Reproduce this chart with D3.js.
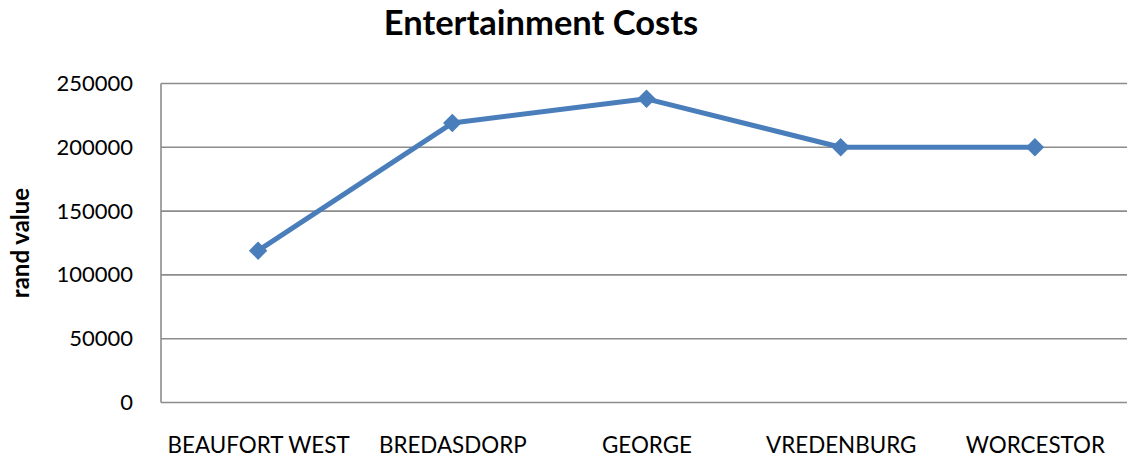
<!DOCTYPE html>
<html>
<head>
<meta charset="utf-8">
<script src="https://cdn.jsdelivr.net/npm/d3@7"></script>
<style>
  html, body { margin: 0; padding: 0; background: #fff; }
  svg { display: block; }
  text { font-family: Lato, "Open Sans", sans-serif; fill: #000; }
</style>
</head>
<body>
<svg id="chart" width="1127" height="458"></svg>
<script>
// Entertainment costs per town (rand)
const towns = ["BEAUFORT WEST", "BREDASDORP", "GEORGE", "VREDENBURG", "WORCESTOR"];
const costs = [119000, 219000, 238000, 200000, 200000];
const yTicks = [0, 50000, 100000, 150000, 200000, 250000];
const chartTitle = "Entertainment Costs";
const yTitle = "rand value";

const svg = d3.select("#chart");
const plot = { left: 161, right: 1132, top: 83.5, bottom: 402.5 };

const x = d3.scalePoint()
  .domain(towns)
  .range([plot.left, plot.right])
  .padding(0.5);

const y = d3.scaleLinear()
  .domain([0, 250000])
  .range([plot.bottom, plot.top]);

// Horizontal gridlines
svg.append("g")
  .selectAll("line")
  .data(yTicks)
  .join("line")
  .attr("x1", plot.left)
  .attr("x2", plot.right)
  .attr("y1", d => y(d))
  .attr("y2", d => y(d))
  .attr("stroke", "#8c8c8c")
  .attr("stroke-width", 1.6);

// Vertical axis line
svg.append("line")
  .attr("x1", plot.left).attr("x2", plot.left)
  .attr("y1", plot.top).attr("y2", plot.bottom)
  .attr("stroke", "#8c8c8c")
  .attr("stroke-width", 1.6);

// Y axis labels
const yAxis = d3.axisLeft(y).tickValues(yTicks).tickSize(0).tickPadding(0)
  .tickFormat(d3.format("d"));
svg.append("g")
  .attr("transform", `translate(133,0)`)
  .call(yAxis)
  .call(g => g.select(".domain").remove())
  .call(g => g.selectAll("text")
    .attr("font-family", "Lato, 'Open Sans', sans-serif")
    .attr("font-size", 22)
    .attr("fill", "#000"));

// X axis labels
const xAxis = d3.axisBottom(x).tickSize(0).tickPadding(0);
svg.append("g")
  .attr("transform", `translate(0,437)`)
  .call(xAxis)
  .call(g => g.select(".domain").remove())
  .call(g => g.selectAll("text")
    .attr("font-family", "Lato, 'Open Sans', sans-serif")
    .attr("font-size", 22.4)
    .attr("fill", "#000"));

// Series line
const line = d3.line()
  .x((d, i) => x(towns[i]))
  .y(d => y(d));

svg.append("path")
  .datum(costs)
  .attr("d", line)
  .attr("fill", "none")
  .attr("stroke", "#4a7ebb")
  .attr("stroke-width", 5)
  .attr("stroke-linejoin", "round");

// Diamond markers
const diamond = d3.symbol().type(d3.symbolSquare).size(170);
svg.append("g")
  .selectAll("path")
  .data(costs)
  .join("path")
  .attr("d", diamond)
  .attr("transform", (d, i) => `translate(${x(towns[i])},${y(d)}) rotate(45)`)
  .attr("fill", "#4a7ebb");

// Title
svg.append("text")
  .attr("x", 541)
  .attr("y", 35)
  .attr("text-anchor", "middle")
  .attr("font-size", 34.5)
  .attr("font-weight", "bold")
  .text(chartTitle);

// Y axis title
svg.append("text")
  .attr("transform", `translate(29,243) rotate(-90)`)
  .attr("text-anchor", "middle")
  .attr("font-size", 24)
  .attr("font-weight", "bold")
  .text(yTitle);
</script>
</body>
</html>
